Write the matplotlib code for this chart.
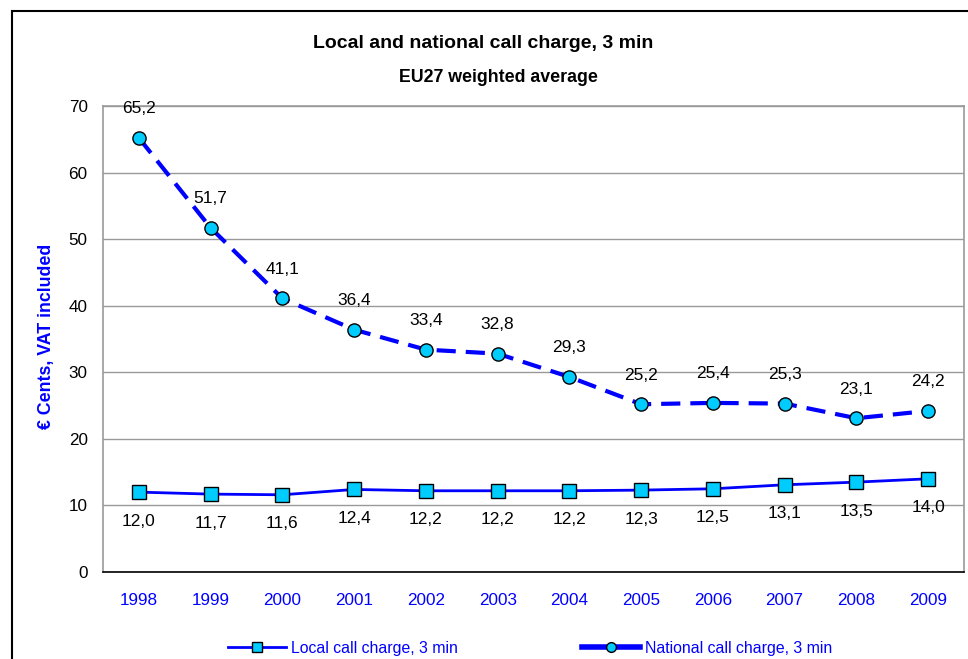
import matplotlib
matplotlib.use("Agg")
import matplotlib.pyplot as plt
from matplotlib.patches import Rectangle
from matplotlib.lines import Line2D

plt.rcParams['font.family'] = ['Liberation Sans', 'DejaVu Sans']

# Data
years = ['1998', '1999', '2000', '2001', '2002', '2003',
         '2004', '2005', '2006', '2007', '2008', '2009']
local_charge = [12.0, 11.7, 11.6, 12.4, 12.2, 12.2, 12.2, 12.3, 12.5, 13.1, 13.5, 14.0]
national_charge = [65.2, 51.7, 41.1, 36.4, 33.4, 32.8, 29.3, 25.2, 25.4, 25.3, 23.1, 24.2]
yticks = [0, 10, 20, 30, 40, 50, 60, 70]

blue = '#0000FF'
cyan = '#00CCFF'

fig = plt.figure(figsize=(9.68, 6.59), dpi=100)
ax = fig.add_axes([103/968, 87/659, 861/968, 466/659])

x = list(range(len(years)))

ax.plot(x, local_charge, color=blue, lw=2, marker='s', markersize=10,
        markerfacecolor=cyan, markeredgecolor='black', markeredgewidth=1,
        zorder=3)
ax.plot(x, national_charge, color=blue, lw=3, linestyle=(0, (4.6, 2.4)),
        marker='o', markersize=9.5, markerfacecolor=cyan,
        markeredgecolor='black', markeredgewidth=1, zorder=3)

# Data labels (comma decimal)
for xi, v in zip(x, national_charge):
    ax.annotate(f"{v:.1f}".replace('.', ','), (xi, v), xytext=(0, 21),
                textcoords='offset points', ha='center', va='center', fontsize=12.5)
for xi, v in zip(x, local_charge):
    ax.annotate(f"{v:.1f}".replace('.', ','), (xi, v), xytext=(0, -21),
                textcoords='offset points', ha='center', va='center', fontsize=12.5)

ax.set_xlim(-0.5, len(years) - 0.5)
ax.set_ylim(0, 70)
ax.set_yticks(yticks)
ax.set_xticks(x)
ax.set_xticklabels(years, color=blue)
ax.tick_params(axis='both', length=0, labelsize=12.3)
ax.tick_params(axis='y', pad=11)
ax.tick_params(axis='x', pad=15)
ax.grid(axis='y', color='#999999', lw=1)
ax.set_axisbelow(True)

for side in ['left', 'right', 'top']:
    ax.spines[side].set_color('#999999')
    ax.spines[side].set_linewidth(1.2)
ax.spines['bottom'].set_color('black')
ax.spines['bottom'].set_linewidth(1.2)

fig.text(47/968, 1 - 336/659, '€ Cents, VAT included', rotation=90,
         ha='center', va='center', color=blue, fontsize=12.8, fontweight='bold')

fig.text(483/968, 1 - 43/659, 'Local and national call charge, 3 min',
         ha='center', va='center', fontsize=14, fontweight='bold')
fig.text(498/968, 1 - 77/659, 'EU27 weighted average',
         ha='center', va='center', fontsize=12.8, fontweight='bold')

# Outer chart frame (extends past right/bottom edge)
fig.patches.append(Rectangle((12/968, -0.1), 1.1, 1 - 11/659 + 0.1,
                             transform=fig.transFigure, fill=False,
                             edgecolor='black', lw=1.5))

handles = [
    Line2D([], [], color=blue, lw=2, marker='s', markersize=7.5,
           markerfacecolor=cyan, markeredgecolor='black', markeredgewidth=1),
    Line2D([], [], color=blue, lw=4, marker='o', markersize=7,
           markerfacecolor=cyan, markeredgecolor='black', markeredgewidth=1),
]
labels = ['Local call charge, 3 min', 'National call charge, 3 min']
leg = fig.legend(handles, labels, loc='center',
                 bbox_to_anchor=(530/968, 1 - 648/659), ncol=2,
                 frameon=False, fontsize=11.4, handlelength=3.7,
                 columnspacing=7.8, handletextpad=0.3)
for t in leg.get_texts():
    t.set_color(blue)

fig.savefig('out.png', dpi=100)
